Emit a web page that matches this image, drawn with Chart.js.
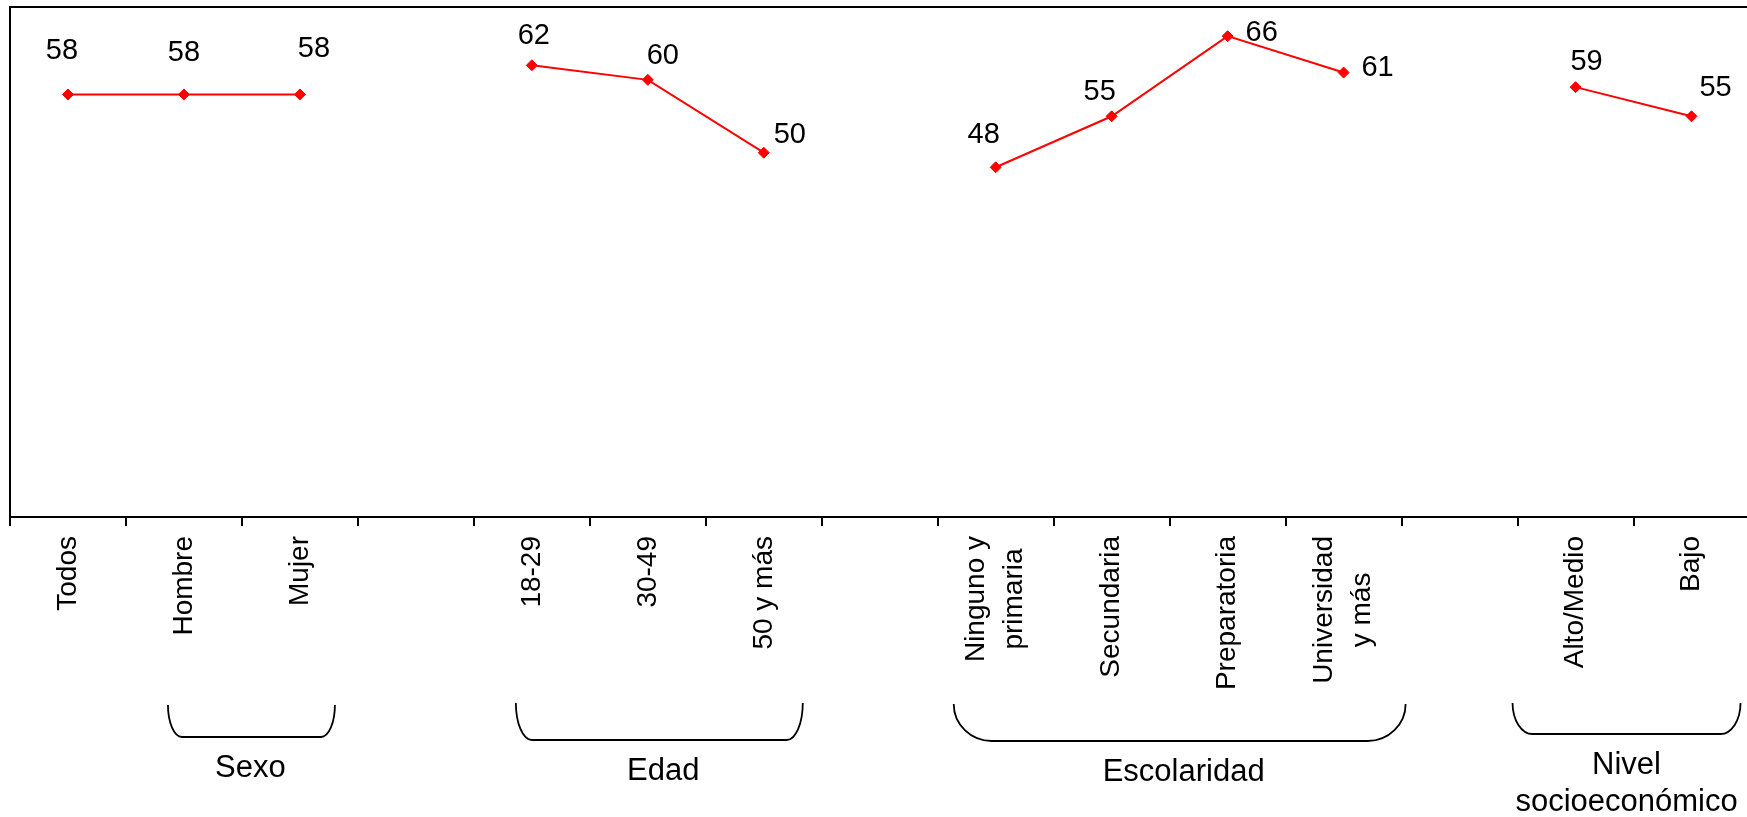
<!DOCTYPE html>
<html>
<head>
<meta charset="utf-8">
<script src="https://cdn.jsdelivr.net/npm/chart.js@4"></script>
<style>
  html, body { margin: 0; padding: 0; background: #fff; overflow: hidden; }
  canvas { display: block; }
</style>
</head>
<body>
<canvas id="c" width="1756" height="817"></canvas>
<script>
// ---- data ----
const categories = ['Todos', 'Hombre', 'Mujer', '', '18-29', '30-49', '50 y más', '',
  ['Ninguno y', 'primaria'], 'Secundaria', 'Preparatoria', ['Universidad', 'y más'], '',
  'Alto/Medio', 'Bajo'];
const values = [58, 58, 58, null, 62, 60, 50, null, 48, 55, 66, 61, null, 59, 55];
const groupNames = ['Sexo', 'Edad', 'Escolaridad', ['Nivel', 'socioeconómico']];
const groupStart = [1, 4, 8, 13];
const groupEnd = [2, 6, 11, 14];
const yMin = 0, yMax = 70;

// ---- style (label placement relative to points / braces) ----
const labelDx = [-6, 0, 14, 0, 2, 15, 26, 0, -12, -12, 34, 34, 0, 11, 24];
const labelDy = [-35, -33, -37, 0, -21, -16, -10, 0, -24, -16, 5, 3, 0, -17, -20];
const braceDx = [[-16, 35], [-16, 39], [-42, 62], [-63, 49]];
const braceR = [14, 16, 38, 20];
const braceTop = [705, 703, 704, 703];
const braceBottom = [737, 740, 741, 734];
const groupLabelDx = [-1, 4, 4, 0];

const FONT = "'Liberation Sans', Arial, Helvetica, sans-serif";
const TICK_TOP = 536;

const overlay = {
  id: 'overlay',
  afterDraw(chart) {
    const ctx = chart.ctx, ca = chart.chartArea, xs = chart.scales.x;
    ctx.save();
    // frame: left and top borders
    ctx.strokeStyle = '#000';
    ctx.lineWidth = 2;
    ctx.beginPath();
    ctx.moveTo(ca.left, ca.bottom);
    ctx.lineTo(ca.left, ca.top);
    ctx.lineTo(ca.right + 2, ca.top);
    ctx.stroke();

    // category labels (rotated)
    ctx.fillStyle = '#000';
    ctx.font = '28px ' + FONT;
    ctx.textAlign = 'center';
    ctx.textBaseline = 'middle';
    categories.forEach((lab, i) => {
      if (!lab) return;
      const lines = Array.isArray(lab) ? lab : [lab];
      const x = xs.getPixelForValue(i);
      const maxW = Math.max(...lines.map(l => ctx.measureText(l).width));
      ctx.save();
      ctx.translate(x, TICK_TOP);
      ctx.rotate(-Math.PI / 2);
      lines.forEach((l, k) => {
        const off = (k - (lines.length - 1) / 2) * 38;
        ctx.fillText(l, -maxW / 2, off);
      });
      ctx.restore();
    });

    // data labels
    const meta = chart.getDatasetMeta(0);
    ctx.textBaseline = 'alphabetic';
    ctx.font = '29px ' + FONT;
    meta.data.forEach((pt, i) => {
      if (values[i] === null || values[i] === undefined) return;
      ctx.fillText(String(values[i]), pt.x + labelDx[i], pt.y + labelDy[i]);
    });

    // group braces + names
    ctx.lineWidth = 1.8;
    groupNames.forEach((name, g) => {
      const l = xs.getPixelForValue(groupStart[g]) + braceDx[g][0];
      const r = xs.getPixelForValue(groupEnd[g]) + braceDx[g][1];
      const t = braceTop[g], b = braceBottom[g], rx = braceR[g], h = b - t;
      ctx.beginPath();
      ctx.ellipse(l + rx, t, rx, h, 0, Math.PI, Math.PI / 2, true);
      ctx.lineTo(r - rx, b);
      ctx.ellipse(r - rx, t, rx, h, 0, Math.PI / 2, 0, true);
      ctx.stroke();
      const cx = (l + r) / 2 + groupLabelDx[g];
      ctx.font = '31px ' + FONT;
      ctx.textAlign = 'center';
      ctx.textBaseline = 'alphabetic';
      const lines = Array.isArray(name) ? name : [name];
      lines.forEach((ln, k) => {
        ctx.fillText(ln, cx, b + 40 + k * 37);
      });
    });
    ctx.restore();
  }
};

new Chart(document.getElementById('c'), {
  type: 'line',
  data: {
    labels: categories,
    datasets: [{
      data: values,
      borderColor: '#FF0000',
      backgroundColor: '#FF0000',
      borderWidth: 2,
      pointStyle: 'rectRot',
      pointRadius: 5.5,
      pointBorderWidth: 1,
      pointBackgroundColor: '#FF0000',
      pointBorderColor: '#FF0000',
      spanGaps: false,
      tension: 0,
      clip: false
    }]
  },
  options: {
    responsive: false,
    animation: false,
    events: [],
    layout: { padding: { top: 7, left: 10, right: 0, bottom: 0 } },
    plugins: { legend: { display: false }, tooltip: { enabled: false }, title: { display: false } },
    scales: {
      x: {
        type: 'category',
        offset: true,
        grid: {
          offset: true,
          display: true,
          drawOnChartArea: false,
          drawTicks: true,
          tickLength: 9,
          color: '#000',
          lineWidth: 2
        },
        border: { display: true, color: '#000', width: 2 },
        ticks: { display: false },
        afterFit(scale) { scale.height = 300; }
      },
      y: {
        display: false,
        min: yMin,
        max: yMax
      }
    }
  },
  plugins: [overlay]
});
</script>
</body>
</html>
